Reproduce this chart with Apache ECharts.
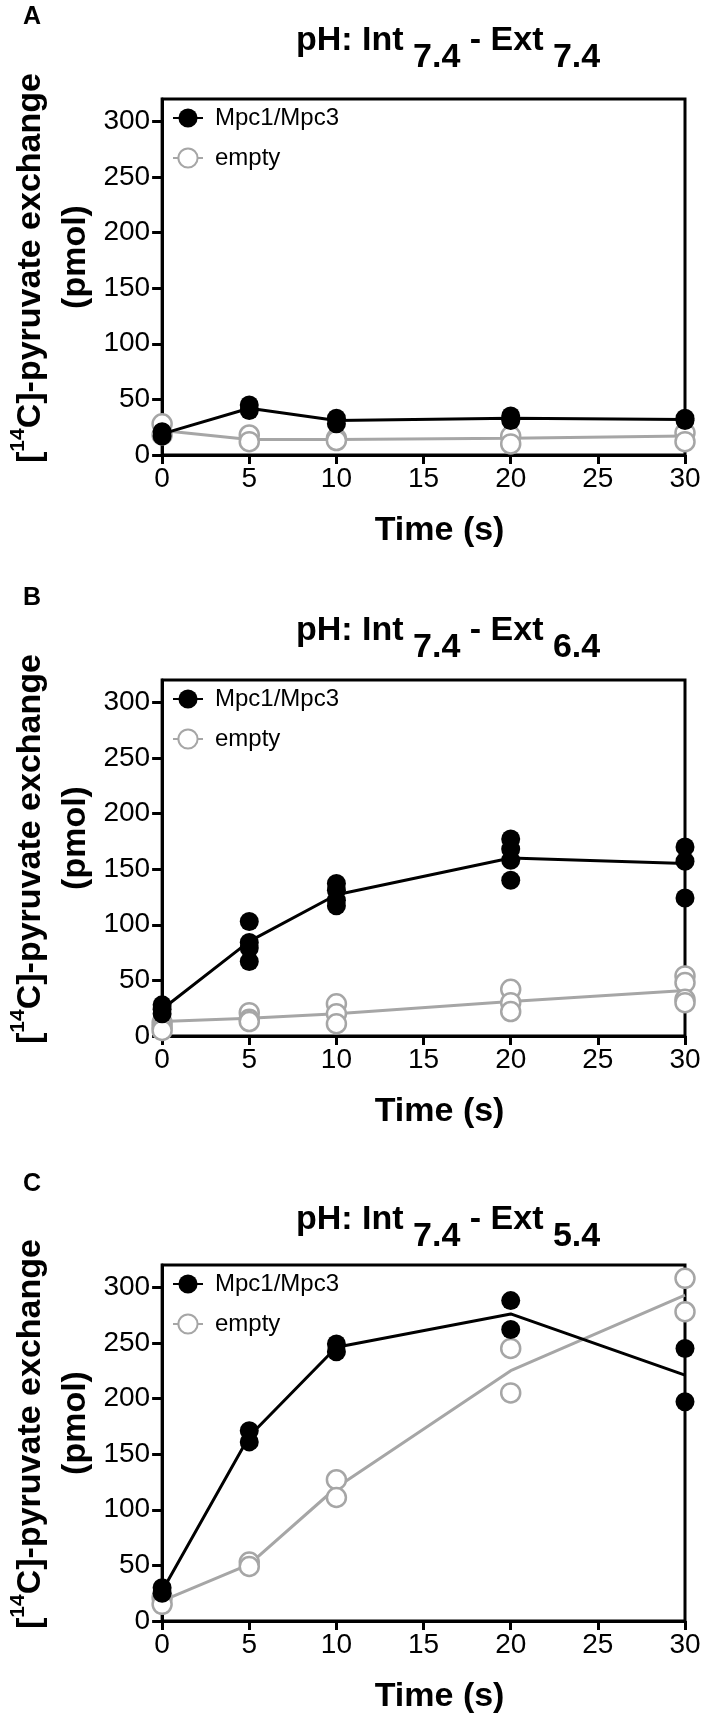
<!DOCTYPE html>
<html><head><meta charset="utf-8">
<script src="https://cdn.jsdelivr.net/npm/echarts@6/dist/echarts.min.js"></script>
<style>html,body{margin:0;padding:0;background:#fff}#c{width:709px;height:1723px}</style>
</head><body><div id="c"></div>
<script>
// ---- data ----
const timePoints = [0, 5, 10, 20, 30];
const xTicks = [0, 5, 10, 15, 20, 25, 30];
const yTicks = [0, 50, 100, 150, 200, 250, 300];
const panelLetters = ['A', 'B', 'C'];
const intPH = '7.4';
const extPH = ['7.4', '6.4', '5.4'];
const seriesNames = ['Mpc1/Mpc3', 'empty'];

// Panel A: Int 7.4 - Ext 7.4
const mpcRepsA = [[21, 17], [45, 40], [33, 28], [35, 31], [33, 31]];
const mpcMeanA = [19, 42, 31, 33, 32];
const emptyRepsA = [[28, 18], [18, 12], [15, 13], [17, 10], [20, 12]];
const emptyMeanA = [22, 14, 14, 15, 17];

// Panel B: Int 7.4 - Ext 6.4
const mpcRepsB = [[28, 24, 20], [103, 84, 79, 67], [137, 131, 122, 117], [177, 168, 158, 140], [170, 157, 124]];
const mpcMeanB = [24, 85, 127, 160, 155];
const emptyRepsB = [[12, 8, 5], [21, 15, 13], [29, 20, 11], [42, 30, 22], [54, 48, 33, 30]];
const emptyMeanB = [13, 16, 20, 31, 41];

// Panel C: Int 7.4 - Ext 5.4
const mpcRepsC = [[30, 25], [171, 161], [249, 242], [288, 262], [245, 197]];
const mpcMeanC = [27, 166, 246, 276, 221];
const emptyRepsC = [[21, 15], [53, 49], [127, 111], [245, 205], [308, 278]];
const emptyMeanC = [18, 51, 120, 225, 293];

// ---- layout / style ----
const FONT = 'Liberation Sans, Arial, Helvetica, sans-serif';
const GREY = '#a6a6a6';
const gridTops = [99, 680, 1265];
const gridH = 356, gridLeft = 162, gridW = 523;
const letterTops = [0, 581, 1167];
const titleTops = [19, 609, 1198];

const panels = [
  {mpcReps: mpcRepsA, mpcMean: mpcMeanA, emptyReps: emptyRepsA, emptyMean: emptyMeanA},
  {mpcReps: mpcRepsB, mpcMean: mpcMeanB, emptyReps: emptyRepsB, emptyMean: emptyMeanB},
  {mpcReps: mpcRepsC, mpcMean: mpcMeanC, emptyReps: emptyRepsC, emptyMean: emptyMeanC}
];

function repPoints(reps) {
  const pts = [];
  reps.forEach((arr, k) => arr.forEach(v => pts.push([timePoints[k], v])));
  return pts;
}
function meanPoints(m) { return timePoints.map((t, k) => [t, m[k]]); }

const grid = [], xAxis = [], yAxis = [], series = [], title = [], legend = [];
const yName = '{b|[}{sup|14}{m|C]-pyruvate exchange}\n{p|(pmol)}';
const yMain = {fontSize: 34, fontWeight: 'bold', lineHeight: 45, color: '#000', fontFamily: FONT};

panels.forEach((p, i) => {
  grid.push({left: gridLeft, top: gridTops[i], width: gridW, height: gridH,
    show: true, borderColor: '#000', borderWidth: 3, backgroundColor: 'transparent'});
  xAxis.push({gridIndex: i, type: 'value', min: 0, max: 30, interval: 5,
    axisLine: {show: true, onZero: false, lineStyle: {color: '#000', width: 3}},
    axisTick: {show: true, length: 9, customValues: xTicks, lineStyle: {color: '#000', width: 3}},
    axisLabel: {fontSize: 28, color: '#000', margin: 10, fontFamily: FONT, customValues: xTicks},
    splitLine: {show: false},
    name: 'Time (s)', nameLocation: 'middle', nameGap: 59,
    nameTextStyle: {fontSize: 34, fontWeight: 'bold', color: '#000', fontFamily: FONT, padding: [0, 0, 0, 32]}
  });
  yAxis.push({gridIndex: i, type: 'value', min: 0, max: 320, interval: 50,
    axisLine: {show: true, onZero: false, lineStyle: {color: '#000', width: 3}},
    axisTick: {show: true, length: 10, customValues: yTicks, lineStyle: {color: '#000', width: 3}},
    axisLabel: {fontSize: 28, color: '#000', margin: 12, fontFamily: FONT, customValues: yTicks},
    splitLine: {show: false},
    name: yName, nameLocation: 'middle', nameGap: 60, nameRotate: 90,
    nameTextStyle: {color: '#000', fontFamily: FONT, fontWeight: 'bold', fontSize: 34,
      rich: {
        m: yMain,
        b: Object.assign({}, yMain, {padding: [0, 0, 0, 18]}),
        p: Object.assign({}, yMain, {padding: [0, 0, 0, 40]}),
        sup: {fontSize: 21, fontWeight: 'bold', lineHeight: 31, verticalAlign: 'top', color: '#000', fontFamily: FONT}
      }}
  });
  title.push({text: panelLetters[i], left: 18, top: letterTops[i], padding: 5,
    textStyle: {fontSize: 25, fontWeight: 'bold', color: '#000', fontFamily: FONT}});
  title.push({text: '{m|pH: Int }{s|' + intPH + '}{m| - Ext }{s|' + extPH[i] + '}',
    left: 291, top: titleTops[i], padding: 5,
    textStyle: {rich: {
      m: {fontSize: 34, fontWeight: 'bold', lineHeight: 36, verticalAlign: 'top', color: '#000', fontFamily: FONT},
      s: {fontSize: 34, fontWeight: 'bold', lineHeight: 36, verticalAlign: 'top', padding: [17, 0, 0, 0], color: '#000', fontFamily: FONT}
    }}});
  legend.push({data: seriesNames, orient: 'vertical', left: 172, top: gridTops[i] + 7,
    itemWidth: 30, itemHeight: 24, itemGap: 16, padding: 0, selectedMode: false,
    textStyle: {fontSize: 24, color: '#000', lineHeight: 24, fontFamily: FONT, padding: [0, 0, 0, 7]}});

  const common = {xAxisIndex: i, yAxisIndex: i, clip: false, silent: true, animation: false};
  const emptyItem = {color: '#fff', borderColor: GREY, borderWidth: 2.5, opacity: 1};
  const mpcItem = {color: '#000', borderColor: '#000', borderWidth: 0, opacity: 1};
  series.push(Object.assign({type: 'line', name: seriesNames[1], data: meanPoints(p.emptyMean),
    symbol: 'circle', symbolSize: 19, showSymbol: false,
    lineStyle: {color: GREY, width: 3}, itemStyle: emptyItem, z: 2}, common));
  series.push(Object.assign({type: 'scatter', name: seriesNames[1], data: repPoints(p.emptyReps),
    symbol: 'circle', symbolSize: 19, itemStyle: emptyItem, z: 3}, common));
  series.push(Object.assign({type: 'line', name: seriesNames[0], data: meanPoints(p.mpcMean),
    symbol: 'circle', symbolSize: 19, showSymbol: false,
    lineStyle: {color: '#000', width: 3}, itemStyle: mpcItem, z: 4}, common));
  series.push(Object.assign({type: 'scatter', name: seriesNames[0], data: repPoints(p.mpcReps),
    symbol: 'circle', symbolSize: 19, itemStyle: mpcItem, z: 5}, common));
});

const chart = echarts.init(document.getElementById('c'), null, {renderer: 'canvas'});
chart.setOption({backgroundColor: '#fff', animation: false, grid, xAxis, yAxis, series, title, legend});
</script>
</body></html>
